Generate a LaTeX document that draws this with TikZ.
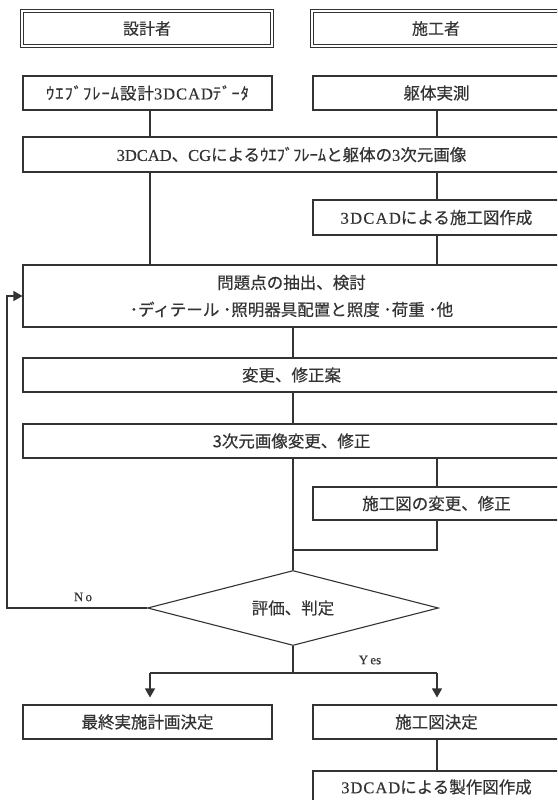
\documentclass[tikz,border=0pt]{standalone}
\usepackage{fontspec}
\setmainfont{Noto Sans CJK JP}[FakeBold=0.4]
\newfontfamily\latin{Liberation Serif}[FakeBold=0.3]
\usetikzlibrary{shapes.geometric,arrows.meta}
\definecolor{ln}{HTML}{333333}
\begin{document}
\begin{tikzpicture}[x=1pt,y=-1pt,
  box/.style={draw=ln, line width=1.1pt, inner sep=0pt, text=ln, font=\fontsize{16.5}{19}\selectfont, align=center},
  hdr/.style={box, double=white, double distance=1.6pt, line width=0.9pt, font=\fontsize{16}{19}\selectfont},
  con/.style={draw=ln, line width=1.1pt},
  arr/.style={con, -{Triangle[length=9pt,width=10pt]}},
  lab/.style={text=ln, font=\latin\fontsize{13}{15}\selectfont}]
\useasboundingbox (0,0) rectangle (557,800);
\fill[white] (0,0) rectangle (557,800);
\clip (0,0) rectangle (557,800);
% columns
\coordinate (colL) at (150,0);
\coordinate (colC) at (293,0);
\coordinate (colR) at (437,0);
% nodes
\node[hdr, minimum width=250pt, minimum height=35pt] (dh) at (147,28.5) {設計者};
\node[hdr, minimum width=248pt, minimum height=35pt] (ch) at (436,28.5) {施工者};
\node[box, minimum width=249pt, minimum height=34pt] (web) at (147.5,93) {\addfontfeature{LetterSpace=6}ｳｴﾌﾞﾌﾚｰﾑ設計{\latin\addfontfeature{LetterSpace=6}3DCAD}ﾃﾞｰﾀ};
\node[box, minimum width=247pt, minimum height=34pt] (kutai) at (436.5,93) {躯体実測};
\node[box, minimum width=537pt, minimum height=35pt] (cg) at (291.5,154.5) {{\latin 3DCAD}、{\latin CG}によるｳｴﾌﾞﾌﾚｰﾑと躯体の{\latin 3}次元画像};
\node[box, minimum width=247pt, minimum height=35pt] (seko) at (436.5,217.5) {{\latin\addfontfeature{LetterSpace=8}3DCAD}による施工図作成};
\node[box, minimum width=537pt, minimum height=62pt, font=\fontsize{16.5}{27}\selectfont] (mon) at (291.5,296) {問題点の抽出、検討\\･ディテール ･照明器具配置と照度 ･荷重 ･他};
\node[box, minimum width=537pt, minimum height=34pt] (henko) at (291.5,375) {変更、修正案};
\node[box, minimum width=537pt, minimum height=34pt] (gazo) at (291.5,441) {3次元画像変更、修正};
\node[box, minimum width=247pt, minimum height=33pt] (sekoh) at (436.5,503.5) {施工図の変更、修正};
\node[box, diamond, aspect=3.88, minimum width=291pt, minimum height=75pt] (hyo) at (293,608) {評価、判定};
\node[box, minimum width=249pt, minimum height=34pt] (saisyu) at (147.5,722) {最終実施計画決定};
\node[box, minimum width=247pt, minimum height=34pt] (kettei) at (436.5,722) {施工図決定};
\node[box, minimum width=247pt, minimum height=32pt] (seisaku) at (436.5,787) {{\latin\addfontfeature{LetterSpace=6}3DCAD}による製作図作成};
% helper coordinates
\coordinate (join) at (293,550);
\coordinate (yesC) at (293,673);
\coordinate (yesL) at (150,673);
\coordinate (yesR) at (437,673);
\coordinate (noU) at (7,296);
% connectors
\draw[con] (web.south -| colL) -- (cg.north -| colL);
\draw[con] (kutai.south -| colR) -- (cg.north -| colR);
\draw[con] (cg.south -| colL) -- (mon.north -| colL);
\draw[con] (cg.south -| colR) -- (seko.north -| colR);
\draw[con] (seko.south -| colR) -- (mon.north -| colR);
\draw[con] (mon.south -| colC) -- (henko.north -| colC);
\draw[con] (henko.south -| colC) -- (gazo.north -| colC);
\draw[con] (gazo.south -| colC) -- (hyo.north);
\draw[con] (gazo.south -| colR) -- (sekoh.north -| colR);
\draw[con] (sekoh.south -| colR) |- (join);
\draw[con] (hyo.south) -- (yesC);
\draw[con] (yesL) -- (yesR);
\draw[arr, shorten >=7pt] (yesL) -- (saisyu.north -| yesL);
\draw[arr, shorten >=7pt] (yesR) -- (kettei.north -| yesR);
\draw[con] (kettei.south -| colR) -- (seisaku.north -| colR);
\draw[arr] (hyo.west) -| (noU) -- (mon.west);
% labels
\node[lab] (nolab) at (83,597) {N\,o};
\node[lab] (yeslab) at (370,660) {Y\,es};
\end{tikzpicture}
\end{document}
